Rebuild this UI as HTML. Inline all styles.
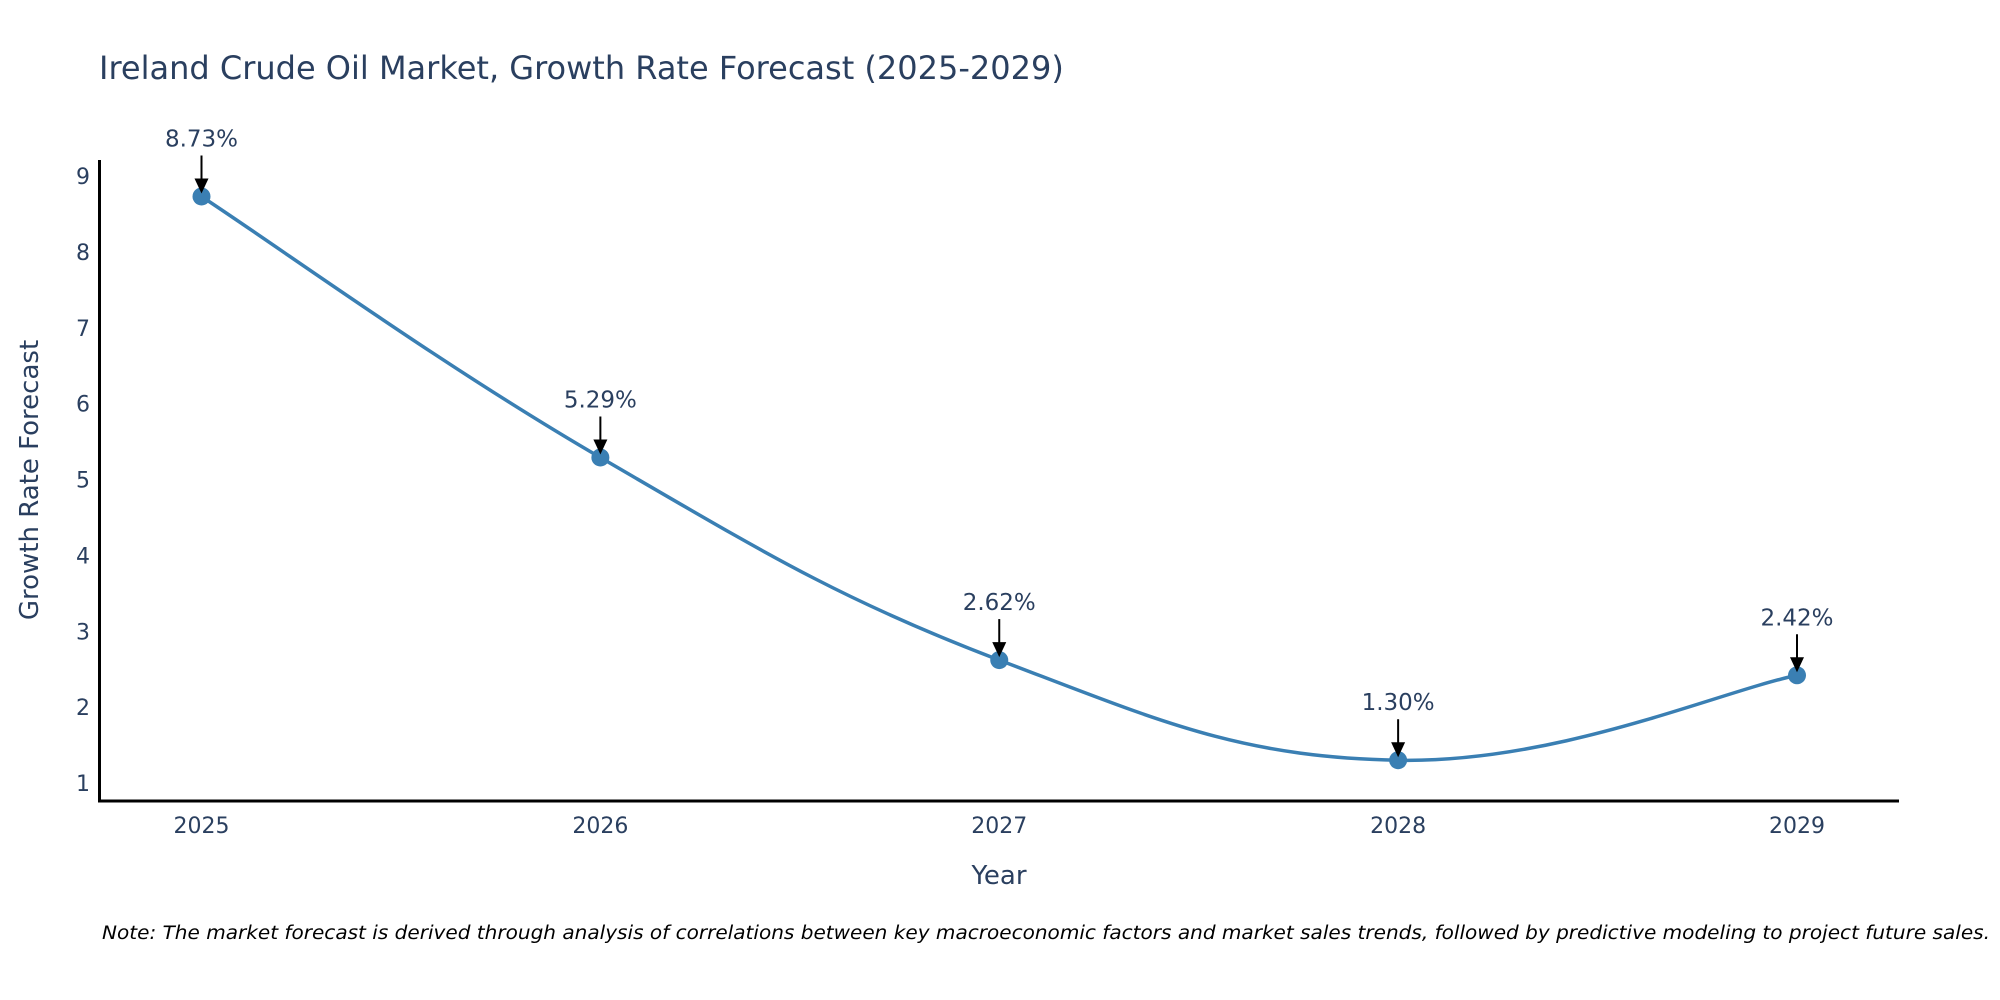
<!DOCTYPE html>
<html><head><meta charset="utf-8"><style>
body{margin:0;background:#fff;}
svg{display:block;font-family:"DejaVu Sans","Liberation Sans",sans-serif;}
</style></head><body>
<svg id="chart" width="2000" height="1000" viewBox="0 0 2000 1000">
<text x="99" y="79" font-size="32" fill="#2a3f5f">Ireland Crude Oil Market, Growth Rate Forecast (2025-2029)</text>
<g id="yticks"></g>
<g id="xticks"></g>
<line x1="99.5" y1="160" x2="99.5" y2="802" stroke="#000" stroke-width="3"/>
<line x1="98" y1="801" x2="1899" y2="801" stroke="#000" stroke-width="3"/>
<text transform="translate(38,480) rotate(-90)" text-anchor="middle" font-size="26" fill="#2a3f5f">Growth Rate Forecast</text>
<text x="999" y="884" text-anchor="middle" font-size="26" fill="#2a3f5f">Year</text>
<g id="series"></g>
<text x="1990" y="939" text-anchor="end" font-size="18.5" font-style="italic" fill="#000" textLength="1888" lengthAdjust="spacingAndGlyphs">Note: The market forecast is derived through analysis of correlations between key macroeconomic factors and market sales trends, followed by predictive modeling to project future sales.</text>
</svg>
<script>
const years = [2025, 2026, 2027, 2028, 2029];
const growth = [8.73, 5.29, 2.62, 1.30, 2.42];
const labels = ["8.73%", "5.29%", "2.62%", "1.30%", "2.42%"];
const yTicks = [1, 2, 3, 4, 5, 6, 7, 8, 9];

const NS = "http://www.w3.org/2000/svg";
const xMin = 2025, xMax = 2029, xL = 201.5, xR = 1797;
const yv0 = 1, yv1 = 9, yp0 = 783, yp1 = 176;
function xs(v){ return xL + (v - xMin) / (xMax - xMin) * (xR - xL); }
function ys(v){ return yp0 + (v - yv0) / (yv1 - yv0) * (yp1 - yp0); }
function mk(tag, attrs, parent){
  const e = document.createElementNS(NS, tag);
  for (const k in attrs) e.setAttribute(k, attrs[k]);
  parent.appendChild(e);
  return e;
}
const yg = document.getElementById('yticks');
yTicks.forEach(t => {
  const e = mk('text', {x: 90, y: ys(t) + 8, 'text-anchor': 'end', 'font-size': 22, fill: '#2a3f5f'}, yg);
  
  
  e.textContent = t;
});
const xg = document.getElementById('xticks');
years.forEach(y => {
  const e = mk('text', {x: xs(y), y: 833, 'text-anchor': 'middle', 'font-size': 22, fill: '#2a3f5f'}, xg);
  
  
  e.textContent = y;
});
const sg = document.getElementById('series');
const pts = years.map((y, i) => [xs(y), ys(growth[i])]);
let d = `M${pts[0][0]},${pts[0][1]}`;
const s = 0.2;
for (let i = 0; i < pts.length - 1; i++) {
  const p0 = pts[Math.max(0, i-1)], p1 = pts[i], p2 = pts[i+1], p3 = pts[Math.min(pts.length-1, i+2)];
  const c1 = [p1[0] + (p2[0]-p0[0])*s, p1[1] + (p2[1]-p0[1])*s];
  const c2 = [p2[0] - (p3[0]-p1[0])*s, p2[1] - (p3[1]-p1[1])*s];
  d += ` C${c1[0]},${c1[1]} ${c2[0]},${c2[1]} ${p2[0]},${p2[1]}`;
}
const line = mk('path', {d: d, fill: 'none', stroke: '#3a7fb3', 'stroke-width': 3.5}, sg);


pts.forEach((p, i) => {
  const c = mk('circle', {cx: p[0], cy: p[1], r: 9, fill: '#3a7fb3'}, sg);
  
  
  const a = mk('line', {x1: p[0], y1: p[1] - 41, x2: p[0], y2: p[1] - 14, stroke: '#000', 'stroke-width': 2}, sg);
  
  
  const h = mk('polygon', {points: `${p[0]-7},${p[1]-18} ${p[0]+7},${p[1]-18} ${p[0]},${p[1]-3}`, fill: '#000'}, sg);
  
  
  const t = mk('text', {x: p[0], y: p[1] - 50, 'text-anchor': 'middle', 'font-size': 23, fill: '#2a3f5f'}, sg);
  
  
  t.textContent = labels[i];
});
</script>
</body></html>
